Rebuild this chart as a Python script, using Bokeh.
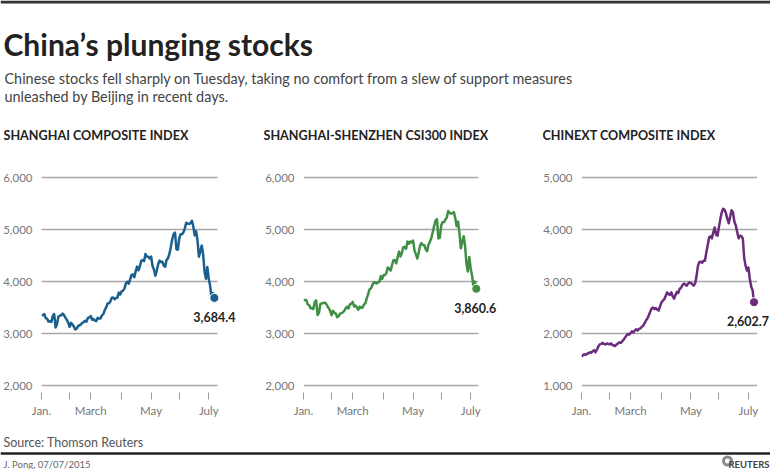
from bokeh.plotting import figure
from bokeh.models import Range1d, FixedTicker, Label, Span, NumeralTickFormatter, BoxAnnotation
from bokeh.layouts import column, row
from bokeh.embed import file_html
from bokeh.resources import INLINE

FONT = "Lato"

# ---------------- data (one value per trading day, 5 Jan 2015 .. 7 Jul 2015) ----------------
shanghai = [
    # Jan
    3351, 3352, 3374, 3294, 3285, 3229, 3235, 3222, 3336, 3376, 3116, 3173, 3324, 3343, 3351, 3383, 3352, 3305, 3262, 3210,
    # Feb
    3128, 3204, 3174, 3136, 3076, 3095, 3141, 3157, 3173, 3203, 3222, 3246, 3228, 3298, 3310,
    # Mar
    3336, 3264, 3280, 3248, 3241, 3302, 3286, 3291, 3349, 3372, 3449, 3503, 3577, 3582, 3617, 3687, 3691, 3660, 3682, 3691, 3786, 3748,
    # Apr
    3810, 3825, 3863, 3961, 3995, 3957, 4034, 4121, 4135, 4084, 4194, 4287, 4217, 4293, 4398, 4414, 4393, 4527, 4476, 4476, 4441,
    # May
    4480, 4298, 4229, 4112, 4205, 4333, 4401, 4375, 4378, 4308, 4284, 4417, 4446, 4530, 4657, 4813, 4910, 4941, 4620, 4611,
    # Jun
    4828, 4910, 4910, 4947, 5023, 5131, 5113, 5106, 5121, 5166, 5062, 4887, 4967, 4786, 4478, 4576, 4690, 4527, 4192, 4053, 4277,
    # Jul
    4053, 3912, 3687, 3776, 3684.4,
]

csi300 = [
    3641, 3642, 3643, 3559, 3547, 3486, 3490, 3471, 3604, 3636, 3356, 3397, 3566, 3580, 3581, 3597, 3576, 3524, 3482, 3434,
    3353, 3436, 3398, 3383, 3312, 3331, 3383, 3391, 3404, 3434, 3483, 3516, 3480, 3559, 3572,
    3607, 3520, 3537, 3502, 3456, 3517, 3491, 3499, 3555, 3579, 3676, 3755, 3851, 3866, 3931, 3986, 3975, 3962, 3985, 3992, 4104, 4051,
    4123, 4123, 4161, 4271, 4251, 4210, 4312, 4411, 4412, 4349, 4467, 4575, 4482, 4543, 4657, 4666, 4631, 4769, 4726, 4769, 4749,
    4787, 4599, 4522, 4442, 4556, 4694, 4737, 4702, 4697, 4617, 4581, 4712, 4766, 4837, 4951, 5068, 5170, 5200, 4829, 4840,
    5076, 5138, 5144, 5191, 5230, 5354, 5317, 5309, 5314, 5336, 5222, 5064, 5151, 4930, 4638, 4758, 4871, 4690, 4337, 4192, 4473,
    4250, 4113, 3885, 3998, 3860.6,
]

chinext = [
    1560, 1580, 1600, 1590, 1610, 1620, 1640, 1630, 1660, 1680, 1640, 1690, 1750, 1790, 1800, 1820, 1800, 1790, 1810, 1800,
    1790, 1810, 1780, 1770, 1760, 1790, 1810, 1830, 1820, 1850, 1880, 1920, 1960, 1990, 1980,
    2010, 2040, 2020, 2060, 2080, 2060, 2090, 2100, 2130, 2150, 2200, 2250, 2290, 2350, 2420, 2480, 2500, 2470, 2490, 2460, 2440, 2520,
    2600, 2630, 2660, 2720, 2790, 2760, 2740, 2790, 2720, 2670, 2740, 2800, 2780, 2860, 2880, 2930, 2960, 2940, 2920, 2960, 2980,
    2970, 2950, 2920, 2960, 3100, 3300, 3370, 3380, 3360, 3400, 3400, 3560, 3700, 3850, 3870, 3830, 3950, 4040, 3900, 3880,
    4050, 4200, 4330, 4400, 4380, 4310, 4200, 4120, 4250, 4370, 4330, 4150, 4080, 3950, 3830, 3880, 3870, 3830, 3450, 3300, 3210,
    3270, 3050, 2900, 2830, 2602.7,
]

# trading-day index of the first session of each month (Jan .. Jul)
month_ticks = [0, 20, 35, 57, 78, 98, 119]
month_labels = ["Jan.", "", "March", "", "May", "", "July"]

y_ticks_a = [2000, 3000, 4000, 5000, 6000]
y_ticks_b = [1000, 2000, 3000, 4000, 5000]

titles = ["SHANGHAI COMPOSITE INDEX", "SHANGHAI-SHENZHEN CSI300 INDEX", "CHINEXT COMPOSITE INDEX"]
colors = ["#1a5f8e", "#418f45", "#6b2c7c"]

headline = "China\u2019s plunging stocks"
subtitle = ["Chinese stocks fell sharply on Tuesday, taking no comfort from a slew of support measures",
            "unleashed by Beijing in recent days."]
source = "Source: Thomson Reuters"
credit = "J. Pong, 07/07/2015"

# ---------------- header ----------------
HDR_H = 148
hdr = figure(width=770, height=HDR_H, x_range=Range1d(0, 770), y_range=Range1d(HDR_H, 0),
             output_backend="svg", toolbar_location=None, min_border=0,
             outline_line_color=None, x_axis_type=None, y_axis_type=None)
hdr.xgrid.visible = False
hdr.ygrid.visible = False
hdr.add_layout(Span(location=1.5, dimension="width", line_color="#333333", line_width=3))
hdr.add_layout(Label(x=3, y=43, text=headline, text_font=FONT, text_font_size="30px",
                     text_font_style="bold", text_color="#222222", text_baseline="alphabetic"))
for i, line in enumerate(subtitle):
    hdr.add_layout(Label(x=4, y=77.5 + 18 * i, text=line, text_font=FONT, text_font_size="14.4px",
                         text_color="#444444", text_baseline="alphabetic"))
for tx, t in zip([3, 263, 542], titles):
    hdr.add_layout(Label(x=tx, y=135, text=t, text_font=FONT, text_font_size="12.6px",
                         text_font_style="bold", text_color="#222222", text_baseline="alphabetic"))

# ---------------- panels ----------------
PANEL_H = 277
PX_PER_DAY = 1.462
top_px = 29.0      # frame top to highest gridline
bot_px = 7.0       # lowest gridline to frame bottom
PX_PER_1000 = 52.0


def panel(values, color, yticks, width, right_border, grid_w, label_dx):
    frame_w = width - 33 - right_border
    lo = yticks[0] - bot_px / PX_PER_1000 * 1000
    hi = yticks[-1] + top_px / PX_PER_1000 * 1000
    x_end = frame_w / PX_PER_DAY
    p = figure(width=width, height=PANEL_H, x_range=Range1d(0, x_end),
               y_range=Range1d(lo, hi), output_backend="svg", toolbar_location=None,
               min_border_left=33, min_border_right=right_border, min_border_top=0,
               min_border_bottom=33, outline_line_color=None)
    p.xgrid.visible = False
    p.ygrid.grid_line_color = "#a8a8a8"
    p.ygrid.grid_line_width = 1.3
    p.ygrid.ticker = FixedTicker(ticks=yticks)
    # gridlines stop short of the label area on the right
    p.add_layout(BoxAnnotation(left=grid_w / PX_PER_DAY, right=x_end, bottom=lo, top=hi,
                               fill_color="white", fill_alpha=1, line_color=None, level="underlay"))

    ya = p.yaxis[0]
    ya.ticker = FixedTicker(ticks=yticks)
    ya.formatter = NumeralTickFormatter(format="0,0")
    ya.axis_line_color = None
    ya.major_tick_line_color = None
    ya.minor_tick_line_color = None
    ya.major_label_standoff = 3
    ya.major_label_text_font = FONT
    ya.major_label_text_font_size = "11.5px"
    ya.major_label_text_color = "#777777"

    xa = p.xaxis[0]
    xa.ticker = FixedTicker(ticks=month_ticks)
    xa.major_label_overrides = {t: l for t, l in zip(month_ticks, month_labels)}
    xa.axis_line_color = None
    xa.minor_tick_line_color = None
    xa.major_tick_line_color = "#999999"
    xa.major_tick_out = 7
    xa.major_tick_in = 0
    xa.major_label_standoff = 4
    xa.major_label_text_font = FONT
    xa.major_label_text_font_size = "11.5px"
    xa.major_label_text_color = "#777777"

    idx = list(range(len(values)))
    p.line(idx, values, line_color=color, line_width=2.5, line_join="round")
    p.scatter([idx[-1]], [values[-1]], size=9, fill_color=color, line_color="white", line_width=1)
    p.add_layout(Label(x=idx[-1], y=values[-1], text=f"{values[-1]:,.1f}", text_font=FONT,
                       text_font_size="12.5px", text_font_style="bold", text_color="#222222",
                       text_align="right", text_baseline="middle", x_offset=label_dx, y_offset=-19))
    return p


p1 = panel(shanghai, colors[0], y_ticks_a, 262, 22, 183, 21)
p2 = panel(csi300, colors[1], y_ticks_a, 278, 40, 182, 20)
p3 = panel(chinext, colors[2], y_ticks_b, 230, 0, 183, 15)

# ---------------- footer ----------------
FTR_H = 44
ftr = figure(width=770, height=FTR_H, x_range=Range1d(0, 770), y_range=Range1d(FTR_H, 0),
             output_backend="svg", toolbar_location=None, min_border=0,
             outline_line_color=None, x_axis_type=None, y_axis_type=None)
ftr.xgrid.visible = False
ftr.ygrid.visible = False
ftr.add_layout(Label(x=3, y=17, text=source, text_font=FONT, text_font_size="12.5px",
                     text_color="#555555", text_baseline="alphabetic"))
ftr.add_layout(Span(location=28, dimension="width", line_color="#222222", line_width=2.5))
ftr.add_layout(Label(x=3, y=39, text=credit, text_font=FONT, text_font_size="9.5px",
                     text_color="#666666", text_baseline="alphabetic"))
ftr.scatter([727], [35.5], size=11, fill_color="#8a8a8a", line_color=None)
ftr.scatter([727], [35.5], size=5, fill_color="white", line_color=None)
ftr.add_layout(Label(x=769, y=39, text="REUTERS", text_font=FONT, text_font_size="9.5px",
                     text_font_style="bold", text_color="#444444", text_align="right",
                     text_baseline="alphabetic"))

layout = column(hdr, row(p1, p2, p3), ftr)
open("out.html", "w").write(file_html(layout, INLINE))
